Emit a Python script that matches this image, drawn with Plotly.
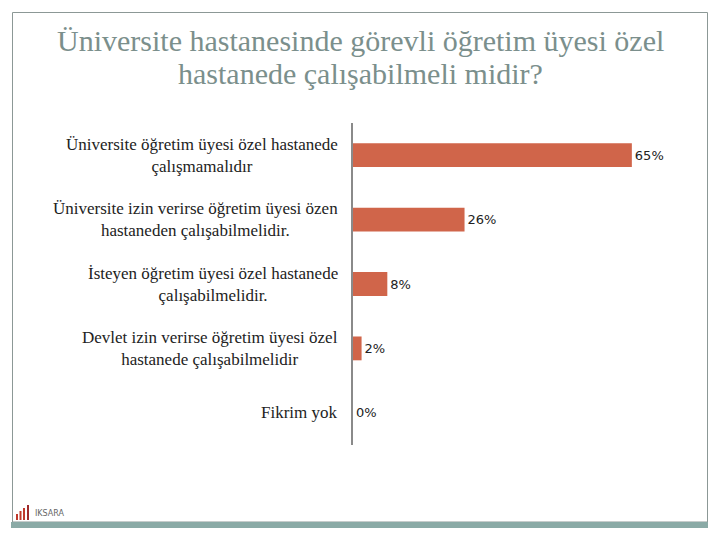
import plotly.graph_objects as go

categories = [
    "Üniversite öğretim üyesi özel hastanede<br>çalışmamalıdır",
    "Üniversite izin verirse öğretim üyesi özen<br>hastaneden çalışabilmelidir.",
    "İsteyen öğretim üyesi özel hastanede<br>çalışabilmelidir.",
    "Devlet izin verirse öğretim üyesi özel<br>hastanede çalışabilmelidir",
    "Fikrim yok",
]
values = [65, 26, 8, 2, 0]
value_labels = ["65%", "26%", "8%", "2%", "0%"]

title_lines = ["Üniversite hastanesinde görevli öğretim üyesi özel",
               "hastanede çalışabilmeli midir?"]

# page body adds an 8px offset; work in screen coordinates and subtract it
OFF = 8
W, H = 712, 532
L, R, T = 353 - OFF, 30, 123 - OFF
B = H - (445 - OFF)

pw = W - L - R
ph = H - T - B
def px(x):
    return (x - OFF - L) / pw
def py(y):
    return 1 - (y - OFF - T) / ph

fig = go.Figure()
fig.add_trace(go.Bar(
    y=categories, x=values, orientation="h",
    marker=dict(color="#D0654A", line=dict(width=0)),
    width=0.37,
    text=value_labels, textposition="outside", cliponaxis=False,
    textfont=dict(family="DejaVu Sans", size=13, color="#222222"),
    hoverinfo="skip",
))

annotations = []
for c in categories:
    annotations.append(dict(
        xref="paper", yref="y", x=px(340), y=c, text=c, showarrow=False,
        xanchor="right", yanchor="middle", align="center",
        font=dict(family="Liberation Serif", size=17, color="#222222"),
    ))

for line, yy in zip(title_lines, [40, 73]):
    annotations.append(dict(
        xref="paper", yref="paper", x=px(360), y=py(yy),
        text=line, showarrow=False, xanchor="center", yanchor="middle",
        font=dict(family="Liberation Serif", size=30, color="#7B8F8C"),
    ))

annotations.append(dict(
    xref="paper", yref="paper", x=px(33), y=py(513), text="IKSARA", showarrow=False,
    xanchor="left", yanchor="middle", font=dict(family="DejaVu Sans", size=8, color="#666666"),
))

shapes = [
    dict(type="rect", xref="paper", yref="paper", x0=px(12.5), x1=px(707.5), y0=py(522), y1=py(12.5),
         line=dict(color="#8C9896", width=1), fillcolor="rgba(0,0,0,0)", layer="below"),
    dict(type="rect", xref="paper", yref="paper", x0=px(11), x1=px(708), y0=py(528), y1=py(522),
         line=dict(width=0), fillcolor="#8AAAA6"),
]
for bx, bh, col in [(16, 6, "#C0392B"), (19.5, 9, "#C0392B"), (23, 12, "#C0392B"), (27, 15, "#9E2A2B")]:
    shapes.append(dict(type="rect", xref="paper", yref="paper", x0=px(bx), x1=px(bx + 2),
                       y0=py(520), y1=py(520 - bh), line=dict(width=0), fillcolor=col))

fig.update_layout(
    width=W, height=H,
    margin=dict(l=L, r=R, t=T, b=B),
    paper_bgcolor="white", plot_bgcolor="white",
    showlegend=False,
    xaxis=dict(range=[0, pw / 4.29], visible=False, fixedrange=True),
    yaxis=dict(autorange="reversed", showticklabels=False, ticks="", showgrid=False,
               showline=True, linecolor="#8A8A8A", linewidth=2, zeroline=False),
    annotations=annotations,
    shapes=shapes,
    bargap=0.63,
)

fig.write_html("out.html")
